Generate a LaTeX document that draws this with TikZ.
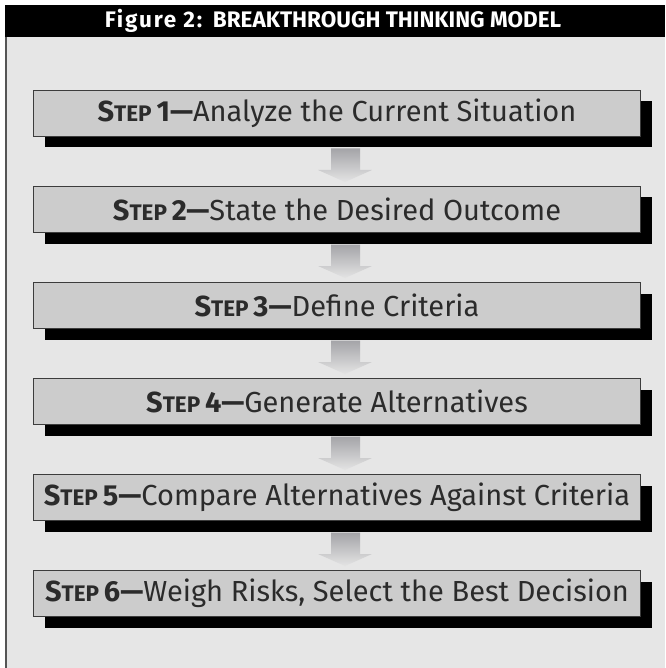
\documentclass[tikz,border=0pt]{standalone}
\usepackage{fontspec}
\setmainfont{Fira Sans}
\usepackage{tikz}
\usetikzlibrary{calc,positioning,shadows}
\definecolor{panel}{HTML}{E6E6E6}
\definecolor{boxfill}{HTML}{CCCCCC}
\definecolor{edge}{HTML}{3C3C3C}
\definecolor{ink}{HTML}{2B2B2B}
\definecolor{frame}{HTML}{555555}
\definecolor{arrowtop}{HTML}{A4A4A8}
\definecolor{arrowbot}{HTML}{E4E4E4}
\newcommand{\stepno}[1]{\textbf{S{\fontsize{22.5}{22.5}\selectfont TEP}\,#1---}}
\tikzset{
  stepbox/.style={draw=edge, fill=boxfill, line width=1pt, minimum width=607pt, minimum height=46pt, inner sep=0pt, text=ink, font=\fontsize{29}{32}\selectfont, drop shadow={shadow xshift=11pt, shadow yshift=-11pt, fill=black, opacity=1}},
  flow/.style={top color=arrowtop, bottom color=arrowbot},
  title/.style={text=white, font=\fontsize{22.5}{25}\selectfont\bfseries}
}

\begin{document}
\begin{tikzpicture}[x=1pt, y=1pt, node distance=49pt]
  \useasboundingbox (0,0) rectangle (665,-668);
  \fill[panel] (5,-37) rectangle (665,-668);
  \fill[black] (5,-5) rectangle (665,-37);
  \draw[frame, line width=1.5pt] (5.75,-37) -- (5.75,-668);
  \node[title] (head) at (333,-21) {{\addfontfeature{LetterSpace=8}Figure 2:}\ \ BREAKTHROUGH THINKING MODEL};

  \node[stepbox] (s1) at (337,-113.5) {\stepno{1}Analyze the Current Situation};
  \node[stepbox, below=of s1] (s2) {\stepno{2}State the Desired Outcome};
  \node[stepbox, below=of s2] (s3) {\stepno{3}Define Criteria};
  \node[stepbox, below=of s3] (s4) {\stepno{4}Generate Alternatives};
  \node[stepbox, below=of s4] (s5) {\stepno{5}Compare Alternatives Against Criteria};
  \node[stepbox, below=of s5] (s6) {\stepno{6}Weigh Risks, Select the Best Decision};

  \foreach \a/\b in {s1/s2, s2/s3, s3/s4, s4/s5, s5/s6}
    \shade[flow] ($(\a.south)+(-6,-11.5)$) -- ($(\b.north)+(-6,16)$) -- ($(\b.north)+(-19,16)$)
      -- ($(\b.north)+(8,4)$) -- ($(\b.north)+(35,16)$) -- ($(\b.north)+(23,16)$)
      -- ($(\a.south)+(23,-11.5)$) -- cycle;
\end{tikzpicture}
\end{document}
